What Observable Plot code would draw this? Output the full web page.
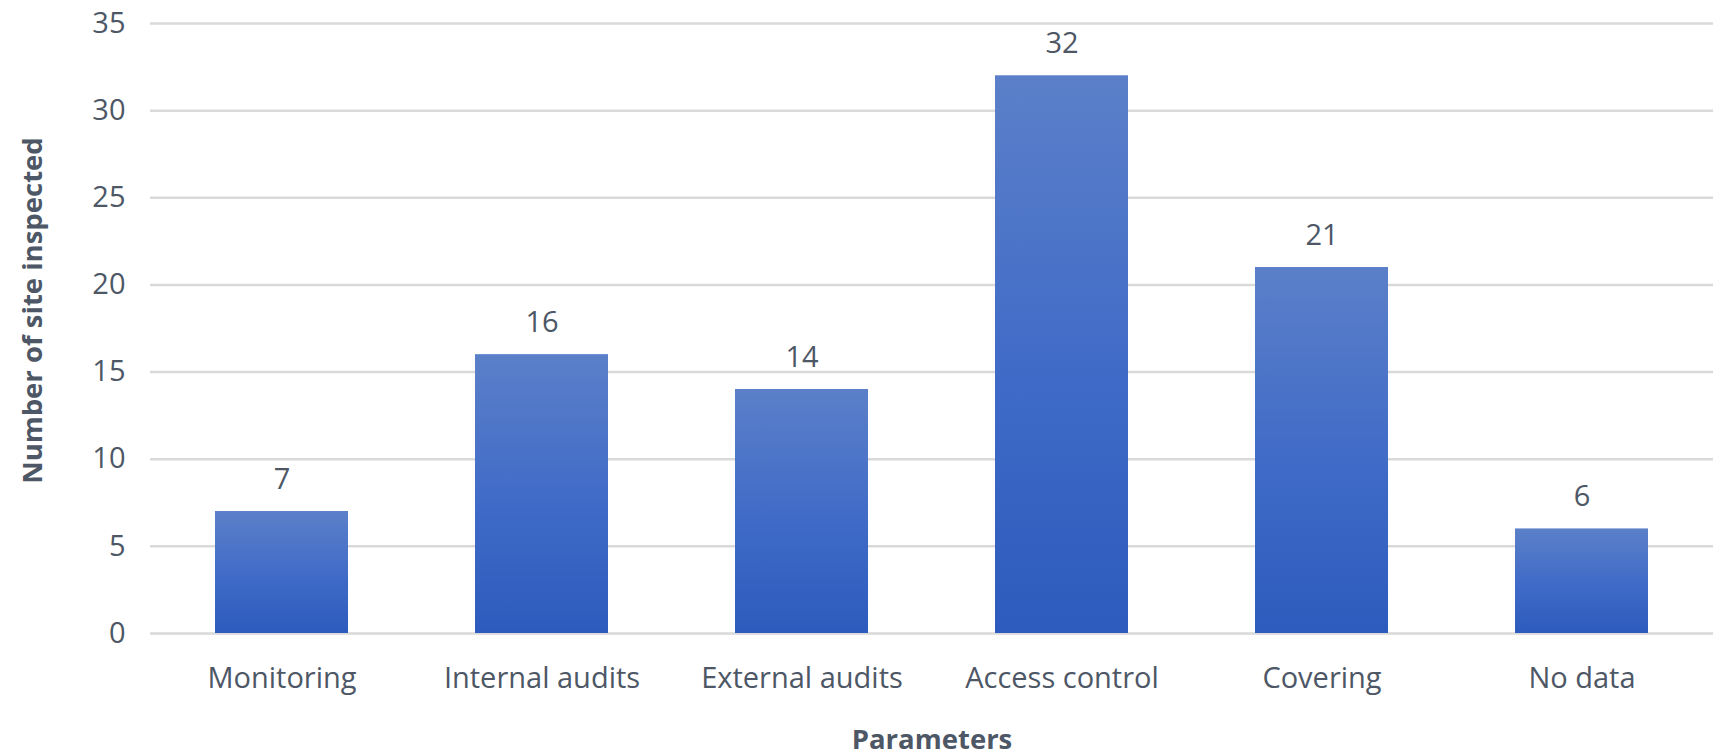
<!DOCTYPE html>
<html>
<head>
<meta charset="utf-8">
<script src="https://cdn.jsdelivr.net/npm/d3@7"></script>
<script src="https://cdn.jsdelivr.net/npm/@observablehq/plot@0.6"></script>
<style>
  html, body { margin: 0; padding: 0; background: #fff; }
  #chart svg { display: block; }
</style>
</head>
<body>
<div id="chart"></div>
<script>
const categories = ["Monitoring", "Internal audits", "External audits", "Access control", "Covering", "No data"];
const values = [7, 16, 14, 32, 21, 6];
const yTicks = [0, 5, 10, 15, 20, 25, 30, 35];
const xTitle = "Parameters";
const yTitle = "Number of site inspected";

const data = categories.map((c, i) => ({category: c, value: values[i]}));
const textColor = "#4d5766";
const font = "'Open Sans', 'Noto Sans', sans-serif";

const chart = Plot.plot({
  width: 1721,
  height: 756,
  marginLeft: 150,
  marginRight: 8,
  marginTop: 23,
  marginBottom: 123,
  style: {fontFamily: font, color: textColor, background: "#fff"},
  x: {domain: categories, paddingInner: 0.49, paddingOuter: 0.245, label: null},
  y: {domain: [0, 35], label: null},
  marks: [
    Plot.gridY(yTicks, {stroke: "#d9d9d9", strokeOpacity: 1, strokeWidth: 2.5}),
    Plot.barY(data, {x: "category", y: "value", fill: "url(#barGrad)"}),
    Plot.text(data, {x: "category", y: "value", text: d => String(d.value), dy: -32, fontSize: 29, fill: textColor, lineAnchor: "middle"}),
    Plot.axisY(yTicks, {tickSize: 0, tickPadding: 25, fontSize: 29, fill: textColor, label: null}),
    Plot.axisX({tickSize: 0, tickPadding: 34, fontSize: 29, fill: textColor, label: null}),
    Plot.text([yTitle], {frameAnchor: "left", rotate: -90, textAnchor: "middle", dx: -117, dy: -18, fontSize: 27.5, fontWeight: "bold", fill: textColor, lineAnchor: "middle"}),
    Plot.text([xTitle], {frameAnchor: "bottom", dy: 107, fontSize: 27.5, fontWeight: "bold", fill: textColor, lineAnchor: "middle"})
  ]
});

const svg = d3.select(chart);
const defs = svg.insert("defs", ":first-child");
const grad = defs.append("linearGradient").attr("id", "barGrad").attr("x1", 0).attr("y1", 0).attr("x2", 0).attr("y2", 1);
grad.append("stop").attr("offset", "0%").attr("stop-color", "#5b80c9");
grad.append("stop").attr("offset", "55%").attr("stop-color", "#3f6ac7");
grad.append("stop").attr("offset", "100%").attr("stop-color", "#2d5bbd");

document.getElementById("chart").appendChild(chart);
</script>
</body>
</html>
